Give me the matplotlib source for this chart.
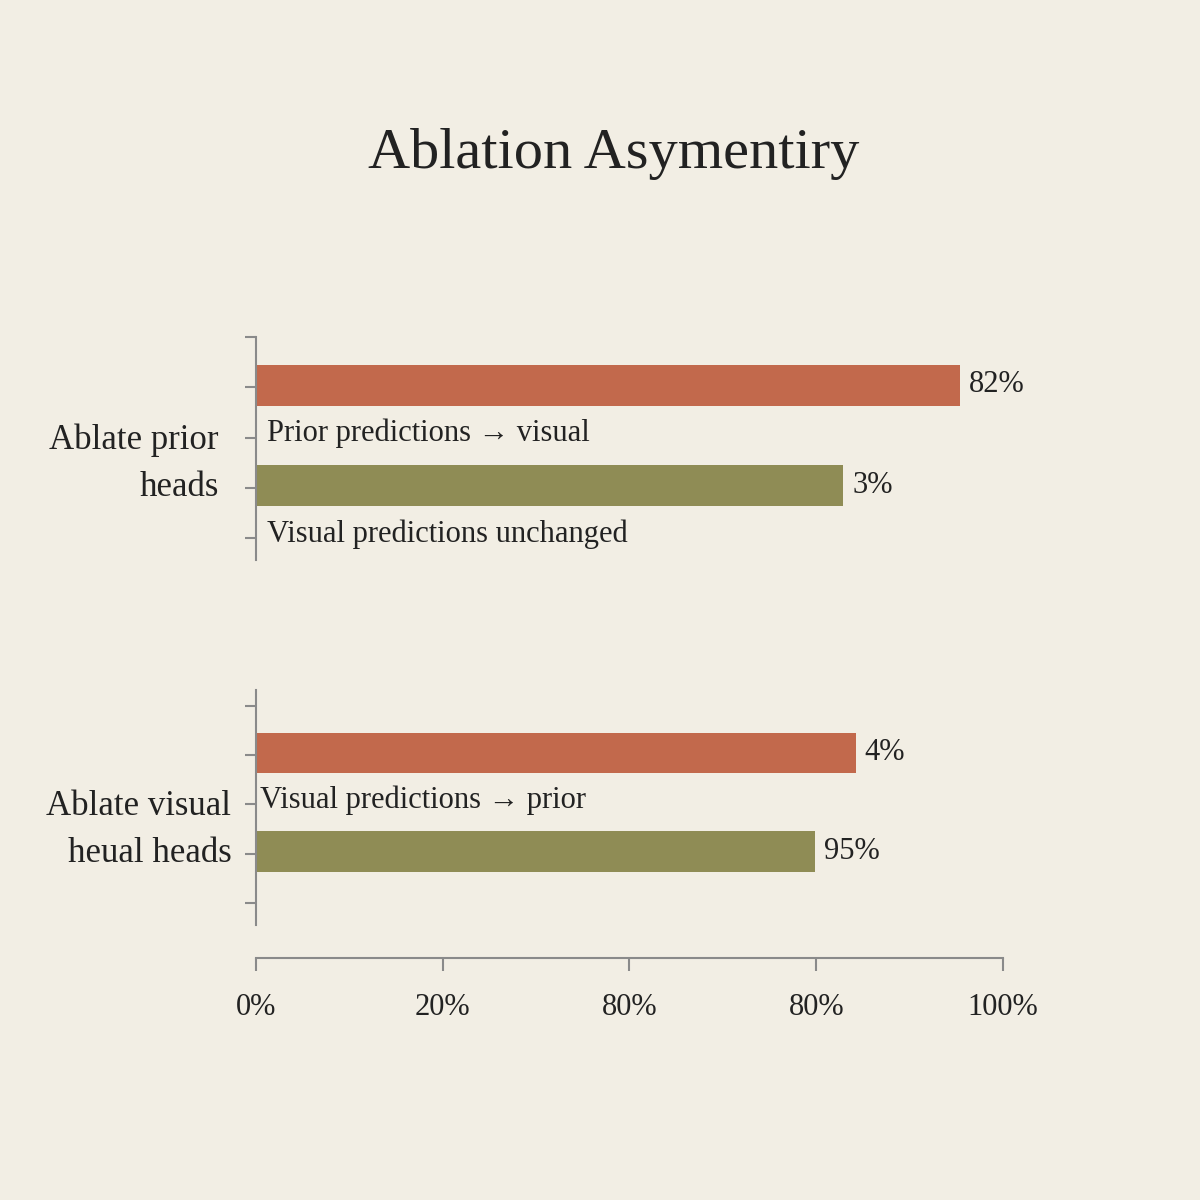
import matplotlib
matplotlib.use('Agg')
import matplotlib.pyplot as plt

bg = '#F2EEE4'
orange = '#C2694C'
olive = '#8F8C55'
ink = '#222222'
grey = '#8A8A8A'

title = 'Ablation Asymentiry'
groups = ['Ablate prior\nheads', 'Ablate visual\nheual heads']
bar_vals = [[94.2, 78.6], [80.3, 74.8]]
bar_labels = [['82%', '3%'], ['4%', '95%']]
notes = [['Prior predictions \u2192 visual', 'Visual predictions unchanged'],
         ['Visual predictions \u2192 prior']]
xticks = [0, 25, 50, 75, 100]
xticklabels = ['0%', '20%', '80%', '80%', '100%']

plt.rcParams['font.family'] = ['Liberation Serif', 'DejaVu Serif']

fig = plt.figure(figsize=(12, 12), dpi=100)
fig.patch.set_facecolor(bg)

ax1 = fig.add_axes([0.2133, 0.5333, 0.6225, 0.1858])
ax2 = fig.add_axes([0.2133, 0.2292, 0.6225, 0.1958])
axes = [ax1, ax2]
ylims = [(4.44, 0), (4.45, -0.32)]

for i, ax in enumerate(axes):
    ax.set_facecolor(bg)
    ax.set_xlim(0, 100)
    ax.set_ylim(*ylims[i])
    for s in ['top', 'right']:
        ax.spines[s].set_visible(False)
    ax.spines['left'].set_color(grey)
    ax.spines['left'].set_linewidth(1.5)
    ax.set_yticks([0, 1, 2, 3, 4])
    ax.set_yticklabels([])
    ax.tick_params(axis='y', length=8, width=1.5, color=grey)

    ax.barh([0.96, 2.96], bar_vals[i], height=0.82, color=[orange, olive])
    for y, v, lab in zip([1, 3], bar_vals[i], bar_labels[i]):
        ax.text(v + 1.2, y - 0.05, lab, va='center', ha='left',
                fontsize=22, color=ink)
    for j, note in enumerate(notes[i]):
        ax.text(1.5 if i == 0 else 0.6, 2 + 2 * j - 0.08, note,
                va='center', ha='left', fontsize=22, color=ink)

    ax.text(-5.0 if i == 0 else -3.3, 2.52, groups[i], ha='right',
            va='center', multialignment='right',
            fontsize=25, color=ink, linespacing=1.55, clip_on=False)

ax1.spines['bottom'].set_visible(False)
ax1.set_xticks([])

ax2.spines['bottom'].set_position(('outward', 24))
ax2.spines['bottom'].set_color(grey)
ax2.spines['bottom'].set_linewidth(1.5)
ax2.set_xticks(xticks)
ax2.set_xticklabels(xticklabels, fontsize=22, color=ink)
ax2.tick_params(axis='x', length=9, width=1.5, color=grey, pad=16)

fig.text(0.511, 0.872, title, ha='center', va='center', fontsize=42,
         color=ink)

fig.savefig('out.png', dpi=100, facecolor=bg)
